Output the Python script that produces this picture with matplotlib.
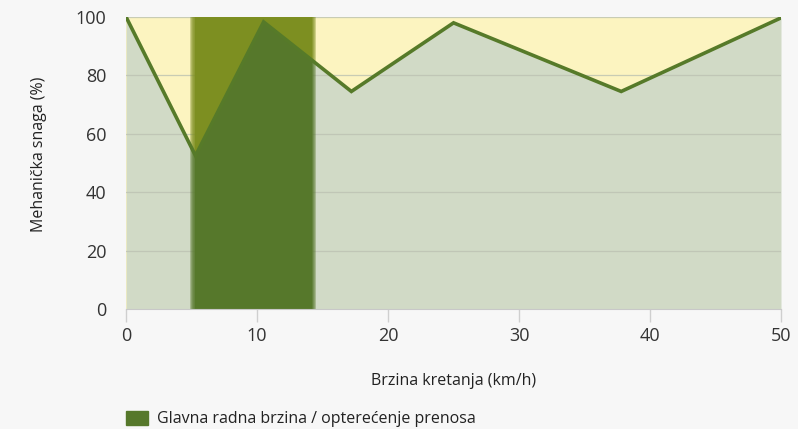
import matplotlib.pyplot as plt
from matplotlib.patches import Patch

# Data
speed = [0, 5.3, 10.5, 17.2, 25.0, 37.8, 50]
power = [100, 52.5, 98.3, 74.5, 98.0, 74.5, 99.7]

band_start = 5.3
band_end = 14.1

x_ticks = [0, 10, 20, 30, 40, 50]
y_ticks = [0, 20, 40, 60, 80, 100]

legend_label = 'Glavna radna brzina / opterećenje prenosa'

plt.rcParams['font.family'] = ['Open Sans', 'DejaVu Sans']

fig = plt.figure(figsize=(7.98, 4.29), dpi=100, facecolor='#f7f7f7')
ax = fig.add_axes([0.158, 0.2797, 0.8207, 0.6807])
ax.set_facecolor('#fcf4c0')

# area under the curve
below = ax.fill_between(speed, 0, power, color='#d1dac6', lw=0, zorder=1)
above = ax.fill_between(speed, power, 100, color='none', lw=0, zorder=0)

# gridlines (under the band)
for yv in y_ticks[1:]:
    ax.axhline(yv, color='#bcc2b2', lw=0.9, alpha=0.8, zorder=1.5)

# main working band, soft edges, coloured differently above / below curve
steps = 6
blur = 0.4
for clip_src, col in [(above, '#7d8f21'), (below, '#56782b')]:
    clip = clip_src.get_paths()[0]
    for i in range(steps):
        d = blur * (steps - i) / steps
        span = ax.axvspan(band_start - d, band_end + d, color=col,
                          alpha=0.35 if i < steps - 1 else 1, lw=0, zorder=2)
        span.set_clip_path(clip, ax.transData)

ax.plot(speed, power, color='#567a29', lw=2.6, zorder=4,
        solid_joinstyle='miter')

ax.set_xlim(0, 50)
ax.set_ylim(0, 100)
ax.set_xticks(x_ticks)
ax.set_yticks(y_ticks)
for s in ['top', 'right', 'left']:
    ax.spines[s].set_visible(False)
ax.spines['bottom'].set_color('#c8c8c8')
ax.tick_params(axis='x', length=9, color='#cfcfcf', width=1,
               labelsize=13, labelcolor='#333333', pad=4)
ax.tick_params(axis='y', length=0, labelsize=13, labelcolor='#333333', pad=14)

ax.set_xlabel('Brzina kretanja (km/h)', fontsize=11.5, color='#222222')
ax.xaxis.set_label_coords(0.5, -0.22)
ax.set_ylabel('Mehanička snaga (%)', fontsize=11.5, color='#222222')
ax.yaxis.set_label_coords(-0.12, 0.53)

fig.legend(handles=[Patch(color='#56782b', label=legend_label)],
           loc='lower left', bbox_to_anchor=(0.14, -0.03), frameon=False,
           fontsize=11.5, handlelength=1.4, handleheight=1.0,
           handletextpad=0.55, labelcolor='#222222')

fig.savefig('out.png', dpi=100, facecolor=fig.get_facecolor())
